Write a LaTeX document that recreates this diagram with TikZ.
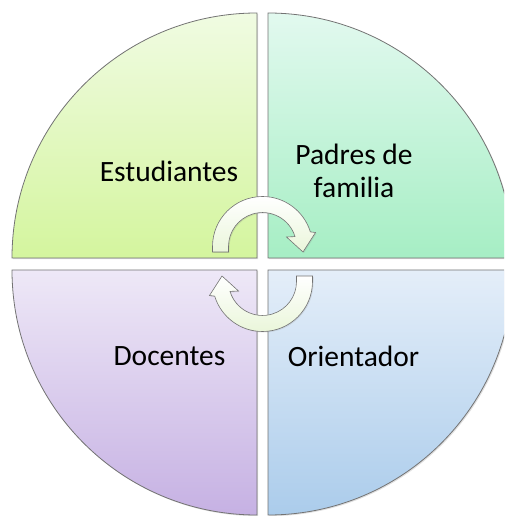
\documentclass[tikz,border=0pt]{standalone}
\usepackage{fontspec}
\setmainfont{Carlito}
\usetikzlibrary{shadows}
\tikzset{>=latex}

\definecolor{quadline}{HTML}{737373}
\definecolor{estTop}{HTML}{F0FBE2}
\definecolor{estBot}{HTML}{D4F59E}
\definecolor{padTop}{HTML}{E2F9EF}
\definecolor{padBot}{HTML}{A6EEC4}
\definecolor{docTop}{HTML}{EEE8F7}
\definecolor{docBot}{HTML}{C6B1E3}
\definecolor{oriTop}{HTML}{E4EEF9}
\definecolor{oriBot}{HTML}{ABCCEB}
\definecolor{cycgreen}{HTML}{EAF6DA}

\tikzset{
  quad/.style={draw=quadline, line width=0.8pt,
    drop shadow={opacity=0.25, shadow xshift=1.2pt, shadow yshift=-1.2pt}},
  cyc/.style={draw=quadline, line width=0.6pt, top color=white, bottom color=cycgreen,
    drop shadow={opacity=0.2, shadow xshift=1pt, shadow yshift=-1pt}},
  lbl/.style={font=\fontsize{29.5}{32.5}\selectfont, align=center, text=black}
}

\begin{document}
\begin{tikzpicture}[x=1pt,y=1pt]
        \useasboundingbox (-262.5,-252) rectangle (241.5,264);
        \clip (-262.5,-252) rectangle (241.5,264);

        % Four quadrants of the circle
        \draw[quad, top color=estTop, bottom color=estBot]
          (-5.5,6) -- (-250.5,6) arc[start angle=180, end angle=90, radius=245] -- cycle;
        \draw[quad, top color=padTop, bottom color=padBot]
          (5.5,6) -- (5.5,251) arc[start angle=90, end angle=0, radius=245] -- cycle;
        \draw[quad, top color=docTop, bottom color=docBot]
          (-5.5,-6) -- (-5.5,-251) arc[start angle=270, end angle=180, radius=245] -- cycle;
        \draw[quad, top color=oriTop, bottom color=oriBot]
          (5.5,-6) -- (250.5,-6) arc[start angle=0, end angle=-90, radius=245] -- cycle;

        % Labels
        \node[lbl] (est) at (-93.5,92.5) {Estudiantes};
        \node[lbl] (pad) at (91.5,93) {Padres de\\familia};
        \node[lbl] (doc) at (-93,-92) {Docentes};
        \node[lbl] (ori) at (91,-92) {Orientador};

        % Circular arrows in the middle
        \draw[cyc] (-50,12) -- (-50,17.5) arc[start angle=180, end angle=17, radius=50]
          -- (53,31.5) -- (40.5,12) -- (24,27) -- (32.5,27.4)
          arc[start angle=17, end angle=180, radius=34] -- (-34,12) -- cycle;
        \draw[cyc, rotate=180] (-50,12) -- (-50,17.5) arc[start angle=180, end angle=17, radius=50]
          -- (53,31.5) -- (40.5,12) -- (24,27) -- (32.5,27.4)
          arc[start angle=17, end angle=180, radius=34] -- (-34,12) -- cycle;
\end{tikzpicture}
\end{document}
